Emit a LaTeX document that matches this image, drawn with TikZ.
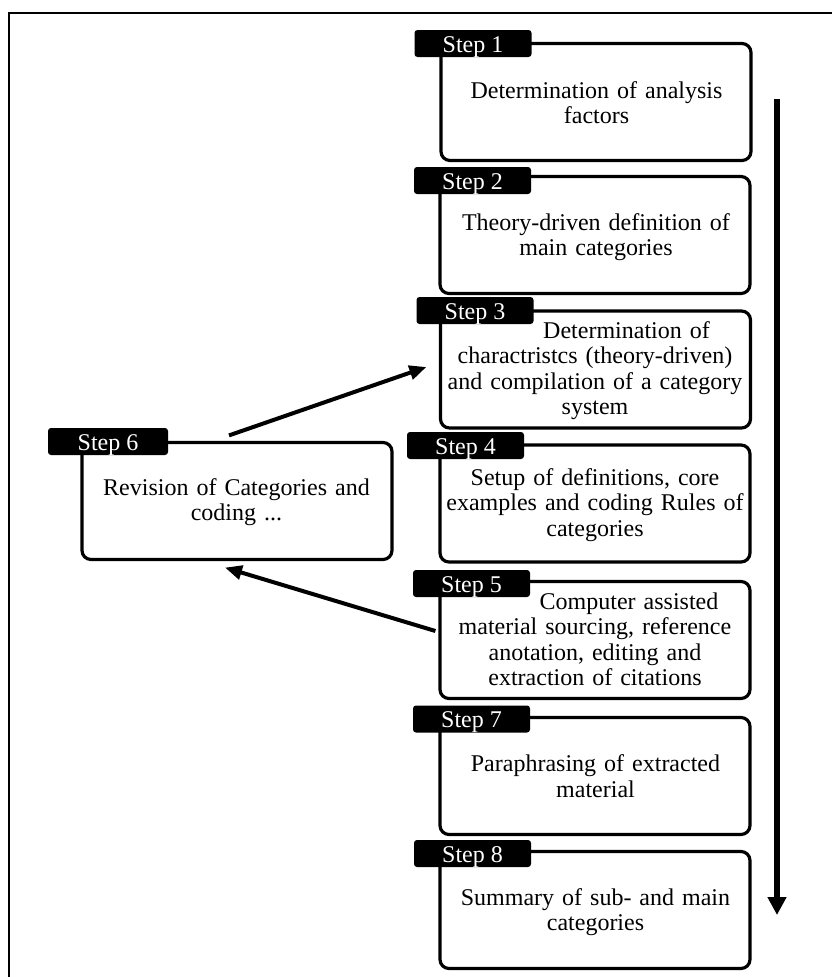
\documentclass[tikz,border=0pt]{standalone}
\usepackage{fontspec}
\setmainfont{Liberation Serif}
\usetikzlibrary{arrows.meta,calc}
\begin{document}
\begin{tikzpicture}[x=1pt,y=-1pt,
  stepbox/.style={draw=black, fill=white, line width=3.2pt, rounded corners=9pt,
    minimum width=310pt, minimum height=117pt, inner sep=0pt},
  steptab/.style={fill=black, rounded corners=3pt, minimum width=117pt,
    minimum height=27pt, inner sep=0pt, text=white,
    font=\fontsize{24}{26}\selectfont, text height=17pt, text depth=0pt},
  body/.style={anchor=base, text width=320pt, align=center, inner sep=0pt,
    font=\fontsize{24}{25.5}\selectfont},
  flow/.style={line width=6.5pt, -{Triangle[width=18pt,length=18pt]}},
  loop/.style={line width=4pt, -{Triangle[width=14pt,length=17pt]}}]
\useasboundingbox (0,0) rectangle (832,977);

% page frame (open to the right and bottom)
\draw[line width=2.2pt] (832,13) -- (9,13) -- (9,977);

% step boxes
\node[stepbox] (b1) at (596,102) {};
\node[stepbox] (b2) at (595,235) {};
\node[stepbox] (b3) at (595.5,369.5) {};
\node[stepbox] (b4) at (595,503.5) {};
\node[stepbox] (b5) at (595,640) {};
\node[stepbox] (b7) at (595,776) {};
\node[stepbox] (b8) at (595,910) {};
\node[stepbox] (b6) at (237,501) {};

% step tabs
\node[steptab] (t1) at (473,43.5) {Step 1};
\node[steptab] (t2) at (472.5,180.5) {Step 2};
\node[steptab] (t3) at (475,310.5) {Step 3};
\node[steptab] (t4) at (465.5,445.5) {Step 4};
\node[steptab] (t5) at (471.5,583.5) {Step 5};
\node[steptab] (t7) at (471.5,719) {Step 7};
\node[steptab] (t8) at (472.5,853.5) {Step 8};
\node[steptab, minimum width=120pt] (t6) at (108,441.5) {Step 6};

% box texts
\node[body] (x1) at (596.5,98) {Determination of analysis\\factors};
\node[body] (x2) at (596,230) {Theory-driven definition of\\main categories};
\node[body] (x3) at (595,338) {\hspace*{63pt}Determination of\\charactristcs (theory-driven)\\and compilation of a category\\system};
\node[body] (x4) at (595,485) {Setup of definitions, core\\examples and coding Rules of\\categories};
\node[body] (x5) at (595,609) {\hspace*{68pt}Computer assisted\\material sourcing, reference\\anotation, editing and\\extraction of citations};
\node[body] (x7) at (595.5,771.5) {Paraphrasing of extracted\\material};
\node[body] (x8) at (595.5,905) {Summary of sub- and main\\categories};
\node[body] (x6) at (236.5,495) {Revision of Categories and\\coding ...};

% overall flow arrow
\coordinate (flowtop) at (777,99);
\coordinate (flowend) at (777,915);
\draw[flow] (flowtop) -- (flowend);

% feedback loop through step 6
\draw[loop] ($(b6.north)+(-8,-5.5)$) -- ($(b3.west)+(-12.5,-2.5)$);
\draw[loop] ($(b5.west)+(-3,-9)$) -- ($(b6.south)+(-12,6.5)$);
\end{tikzpicture}
\end{document}
